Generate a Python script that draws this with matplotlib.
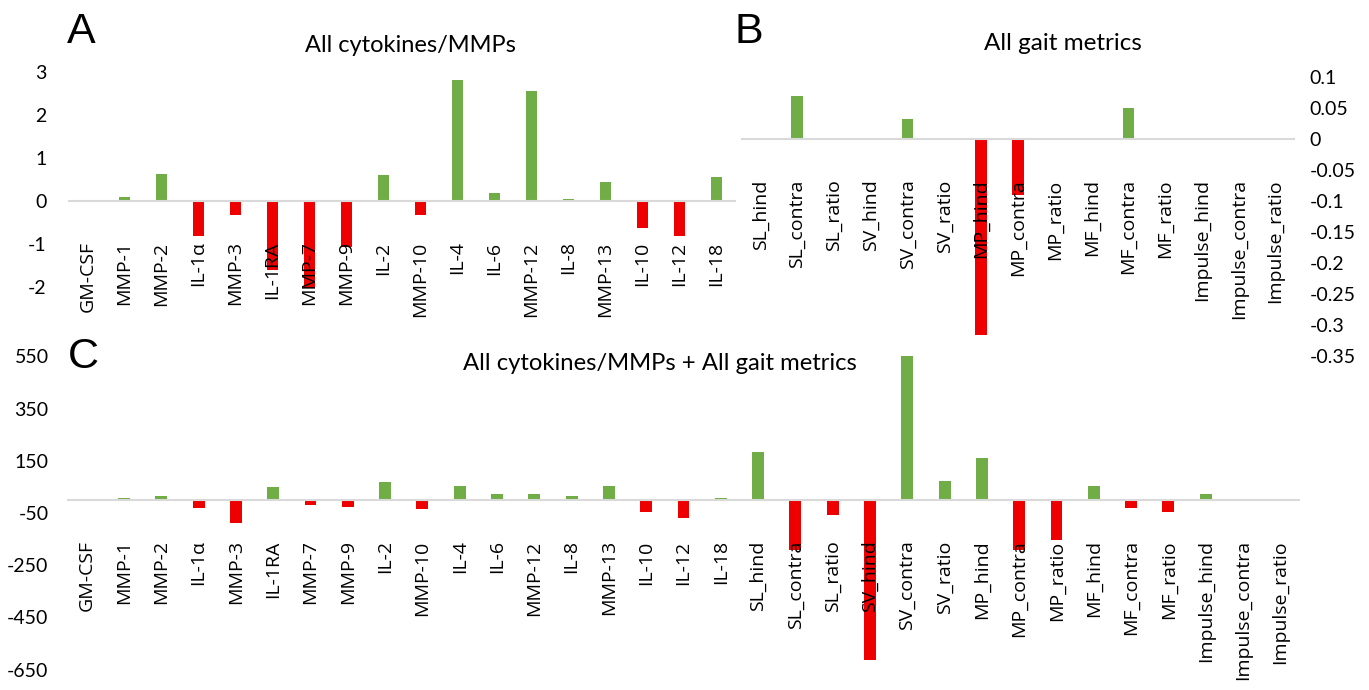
import matplotlib
matplotlib.use("Agg")
import matplotlib.pyplot as plt
import numpy as np

# ---------------- data ----------------
cyto_labels = ["GM-CSF", "MMP-1", "MMP-2", "IL-1α", "MMP-3", "IL-1RA", "MMP-7", "MMP-9",
               "IL-2", "MMP-10", "IL-4", "IL-6", "MMP-12", "IL-8", "MMP-13", "IL-10",
               "IL-12", "IL-18"]
cyto_values = [0.0, 0.1, 0.64, -0.81, -0.33, -1.6, -2.02, -1.07,
               0.6, -0.33, 2.83, 0.19, 2.56, 0.06, 0.44, -0.62,
               -0.81, 0.57]

gait_labels = ["SL_hind", "SL_contra", "SL_ratio", "SV_hind", "SV_contra", "SV_ratio",
               "MP_hind", "MP_contra", "MP_ratio", "MF_hind", "MF_contra", "MF_ratio",
               "Impulse_hind", "Impulse_contra", "Impulse_ratio"]
gait_values = [0.0, 0.07, 0.0, 0.0, 0.032, 0.0,
               -0.316, -0.091, 0.0, 0.0, 0.05, 0.0,
               0.0, 0.0, 0.0]

combo_labels = cyto_labels + gait_labels
combo_values = [0, 6, 15, -31, -88, 50, -18, -27,
                70, -34, 55, 22, 24, 17, 55, -45,
                -69, 6,
                184, -192, -57, -613, 552, 74,
                162, -192, -155, 54, -32, -47,
                22, -3, -5]

yticks_a = [3, 2, 1, 0, -1, -2]
yticks_b = [0.1, 0.05, 0, -0.05, -0.1, -0.15, -0.2, -0.25, -0.3, -0.35]
yticklabels_b = ["0.1", "0.05", "0", "-0.05", "-0.1", "-0.15", "-0.2", "-0.25", "-0.3", "-0.35"]
yticks_c = [550, 350, 150, -50, -250, -450, -650]

GREEN = "#70AD47"
RED = "#EE0000"
ZERO = "#D9D9D9"
W, H = 1369, 690

TICKFONT = "Lato"
XFONT = "Open Sans"

fig = plt.figure(figsize=(W / 100, H / 100), dpi=100)


def px_axes(x0, x1, ytop, ybot):
    return fig.add_axes([x0 / W, 1 - ybot / H, (x1 - x0) / W, (ybot - ytop) / H])


def bar_panel(ax, labels, values, ylim, yticks, ytl, right=False, ypad=15):
    x = np.arange(len(labels))
    colors = [GREEN if v >= 0 else RED for v in values]
    ax.bar(x, values, width=0.32, color=colors, zorder=1)
    ax.set_xlim(-0.5, len(labels) - 0.5)
    ax.set_ylim(*ylim)
    ax.spines["bottom"].set_position(("data", 0))
    ax.spines["bottom"].set_color(ZERO)
    ax.spines["bottom"].set_linewidth(1.5)
    for s in ["top", "left", "right"]:
        ax.spines[s].set_visible(False)
    ax.set_xticks(x)
    ax.set_xticklabels(labels, rotation=90, fontsize=14, family=XFONT, va="top")
    ax.tick_params(axis="x", length=0, pad=29)
    ax.set_yticks(yticks)
    ax.set_yticklabels(ytl, fontsize=14, family=TICKFONT)
    ax.tick_params(axis="y", length=0, pad=ypad)
    if right:
        ax.yaxis.tick_right()
        for lab in ax.get_yticklabels():
            lab.set_horizontalalignment("left")
    ax.patch.set_alpha(0)


# Panel A
axA = px_axes(69, 735, 72.3, 291.3)
bar_panel(axA, cyto_labels, cyto_values, (-2.1, 3.0), yticks_a,
          [str(t) for t in yticks_a], ypad=16)

# Panel B
axB = px_axes(742, 1294, 77, 356)
bar_panel(axB, gait_labels, gait_values, (-0.35, 0.1), yticks_b, yticklabels_b,
          right=True, ypad=11)

# Panel C
axC = px_axes(68, 1299, 356.4, 669.7)
bar_panel(axC, combo_labels, combo_values, (-650, 550), yticks_c,
          [str(t) for t in yticks_c], ypad=14)

# Titles and panel letters
fig.text(410 / W, 1 - 45 / H, "All cytokines/MMPs", ha="center", va="center",
         fontsize=17, family=TICKFONT)
fig.text(1063 / W, 1 - 44 / H, "All gait metrics", ha="center", va="center",
         fontsize=17.5, family=TICKFONT)
fig.text(660 / W, 1 - 364 / H, "All cytokines/MMPs + All gait metrics", ha="center",
         va="center", fontsize=17.2, family=TICKFONT)

for letter, xp, yp in [("A", 67, 32), ("B", 734, 32), ("C", 68, 357)]:
    fig.text(xp / W, 1 - yp / H, letter, ha="left", va="center", fontsize=31,
             family="Liberation Sans")

fig.savefig("out.png", dpi=100)
